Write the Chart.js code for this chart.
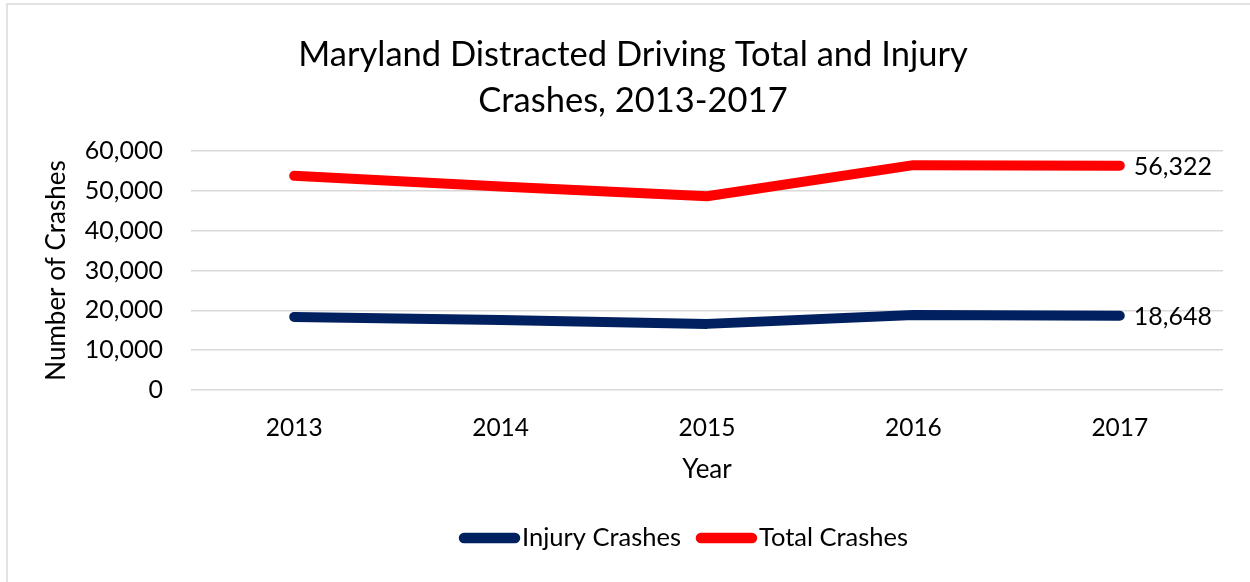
<!DOCTYPE html>
<html>
<head>
<meta charset="utf-8">
<script src="https://cdn.jsdelivr.net/npm/chart.js@4/dist/chart.umd.min.js"></script>
<style>
  html, body { margin: 0; padding: 0; background: #ffffff; }
  #wrap { width: 1250px; height: 582px; position: relative; }
</style>
</head>
<body>
<div id="wrap"><canvas id="c" width="1250" height="582"></canvas></div>
<script>
const years = ['2013', '2014', '2015', '2016', '2017'];
const injuryCrashes = [18340, 17550, 16600, 18840, 18648];
const totalCrashes = [53770, 51100, 48650, 56450, 56322];
const yTicks = [0, 10000, 20000, 30000, 40000, 50000, 60000];
const titleLines = ['Maryland Distracted Driving Total and Injury', 'Crashes, 2013-2017'];

const FONT = 'Lato';
const fmt = v => v.toLocaleString('en-US');

const frame = {
  id: 'frame',
  beforeDraw(chart) {
    const ctx = chart.ctx;
    ctx.save();
    ctx.fillStyle = '#ffffff';
    ctx.fillRect(0, 0, chart.width, chart.height);
    ctx.strokeStyle = '#d9d9d9';
    ctx.lineWidth = 1.5;
    ctx.beginPath();
    ctx.moveTo(7, chart.height);
    ctx.lineTo(7, 4);
    ctx.lineTo(chart.width, 4);
    ctx.stroke();
    ctx.restore();
  }
};

const endLabels = {
  id: 'endLabels',
  afterDatasetsDraw(chart) {
    const ctx = chart.ctx;
    ctx.save();
    ctx.font = '25px ' + FONT;
    ctx.fillStyle = '#000000';
    ctx.textAlign = 'left';
    ctx.textBaseline = 'middle';
    chart.data.datasets.forEach((ds, i) => {
      const meta = chart.getDatasetMeta(i);
      const last = meta.data[meta.data.length - 1];
      ctx.fillText(fmt(ds.data[ds.data.length - 1]), last.x + 14, last.y + 1);
    });
    ctx.restore();
  }
};

const lineLegend = {
  id: 'lineLegend',
  afterDraw(chart) {
    const ctx = chart.ctx;
    ctx.save();
    ctx.font = '25.5px ' + FONT;
    ctx.textBaseline = 'middle';
    ctx.textAlign = 'left';
    const sw = 61, gap = 2, itemGap = 15, y = 538;
    let x = 459;
    chart.data.datasets.forEach((ds, i) => {
      if (i) x += itemGap;
      ctx.strokeStyle = ds.borderColor;
      ctx.lineWidth = 10.5;
      ctx.lineCap = 'round';
      ctx.beginPath();
      ctx.moveTo(x + 5, y);
      ctx.lineTo(x + sw - 5, y);
      ctx.stroke();
      x += sw + gap;
      ctx.fillStyle = '#000000';
      ctx.fillText(ds.label, x, y);
      x += ctx.measureText(ds.label).width;
    });
    ctx.restore();
  }
};

function draw() {
  new Chart(document.getElementById('c'), {
    type: 'line',
    data: {
      labels: years,
      datasets: [
        {
          label: 'Injury Crashes',
          data: injuryCrashes,
          borderColor: '#002060',
          backgroundColor: '#002060',
          borderWidth: 10,
          borderCapStyle: 'round',
          borderJoinStyle: 'round',
          pointRadius: 0,
          pointHoverRadius: 0,
          tension: 0
        },
        {
          label: 'Total Crashes',
          data: totalCrashes,
          borderColor: '#ff0000',
          backgroundColor: '#ff0000',
          borderWidth: 10,
          borderCapStyle: 'round',
          borderJoinStyle: 'round',
          pointRadius: 0,
          pointHoverRadius: 0,
          tension: 0
        }
      ]
    },
    options: {
      responsive: false,
      animation: false,
      events: [],
      layout: { padding: { left: 16, right: 0, top: 0, bottom: 92 } },
      plugins: {
        legend: { display: false },
        tooltip: { enabled: false },
        title: {
          display: true,
          text: titleLines,
          color: '#000000',
          font: { family: FONT, size: 34.5, weight: 'normal', lineHeight: 1.3333 },
          padding: { top: 31.7, bottom: 27.3 }
        }
      },
      scales: {
        x: {
          offset: true,
          grid: { display: false, drawTicks: false },
          border: { display: false },
          ticks: { color: '#000000', padding: 23, font: { family: FONT, size: 24.5 }, maxRotation: 0 },
          title: {
            display: true,
            text: 'Year',
            color: '#000000',
            font: { family: FONT, size: 26 },
            padding: { top: 0, bottom: 5 }
          },
          afterFit(scale) { scale.height = 100; }
        },
        y: {
          min: 0,
          max: 60000,
          afterBuildTicks(scale) { scale.ticks = yTicks.map(v => ({ value: v })); },
          grid: { color: '#d9d9d9', lineWidth: 1.5, drawTicks: false },
          border: { display: false },
          ticks: {
            color: '#000000',
            padding: 28,
            font: { family: FONT, size: 25 },
            callback: v => fmt(v)
          },
          title: {
            display: true,
            text: 'Number of Crashes',
            color: '#000000',
            font: { family: FONT, size: 26 },
            padding: { top: 24.7, bottom: 0 }
          },
          afterFit(scale) { scale.width = 175; }
        },
        yRight: {
          type: 'linear',
          position: 'right',
          display: true,
          grid: { display: false, drawTicks: false },
          border: { display: false },
          ticks: { display: false },
          afterFit(scale) { scale.width = 27; }
        }
      }
    },
    plugins: [frame, endLabels, lineLegend]
  });
}

if (document.fonts && document.fonts.load) {
  Promise.all([document.fonts.load('24px Lato'), document.fonts.load('34.5px Lato')]).then(draw, draw);
} else {
  draw();
}
</script>
</body>
</html>
